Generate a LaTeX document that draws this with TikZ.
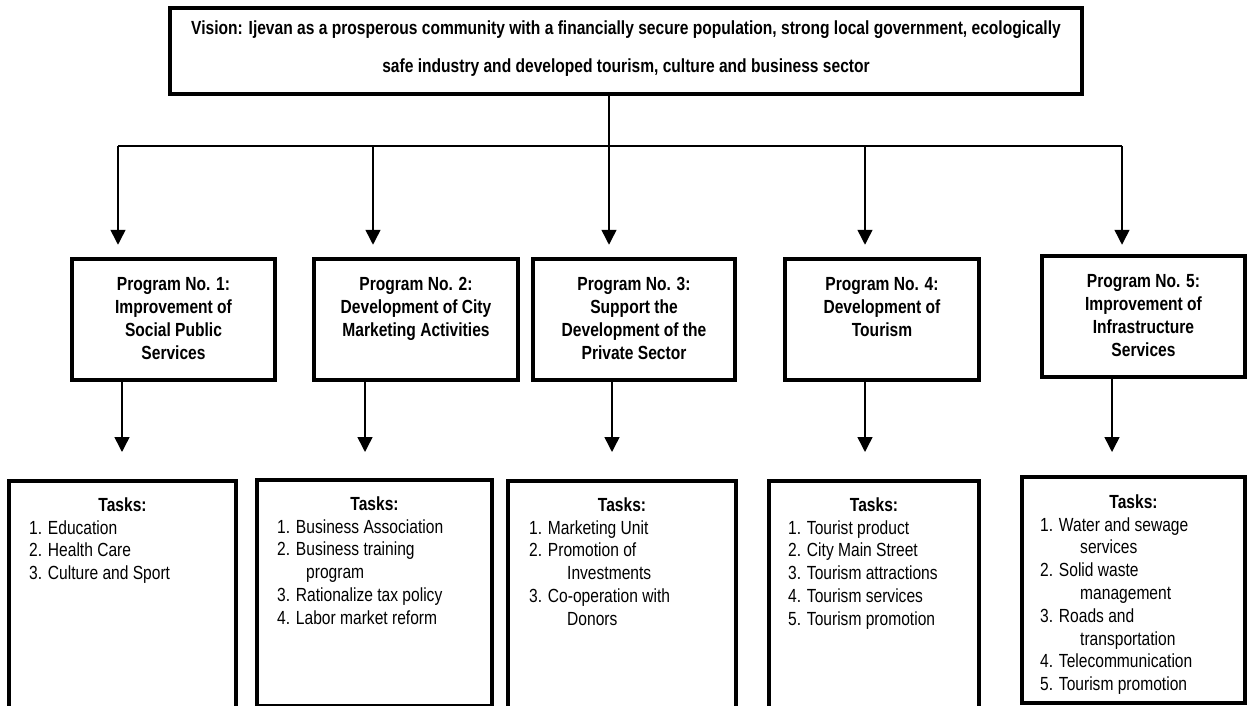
\documentclass[tikz,border=0pt]{standalone}
\usepackage{fontspec}
\setmainfont{Liberation Sans}[FakeStretch=0.82]
\usetikzlibrary{arrows.meta}

\begin{document}
\begin{tikzpicture}[x=1pt,y=-1pt,
  box/.style={draw, line width=4.5pt, inner sep=0pt},
  boxtext/.style={font=\fontsize{19}{23}\selectfont\bfseries, align=center, inner sep=0pt, anchor=north},
  tasktitle/.style={font=\fontsize{19}{23}\selectfont\bfseries, inner sep=0pt, anchor=base},
  tasklist/.style={font=\fontsize{19}{22.8}\selectfont, align=left, inner sep=0pt, anchor=north west},
  link/.style={line width=1.5pt},
  arrow/.style={link, -{Triangle[width=15pt,length=15pt]}},
]
\fill[white] (0,0) rectangle (1248,706);
\begin{scope}
\clip (0,0) rectangle (1248,706);

% vision
\node[box, minimum width=912pt, minimum height=86pt] (v) at (626,51) {};
\node[boxtext] (vt) at (626,18) {\strut Vision: Ijevan as a prosperous community with a financially secure population, strong local government, ecologically\\[15pt]
  safe industry and developed tourism, culture and business sector};

% programs
\node[box, minimum width=203pt, minimum height=121pt] (p1) at (173.5,319.5) {};
\node[box, minimum width=204pt, minimum height=121pt] (p2) at (416,319.5) {};
\node[box, minimum width=202pt, minimum height=121pt] (p3) at (634,319.5) {};
\node[box, minimum width=194pt, minimum height=121pt] (p4) at (882,319.5) {};
\node[box, minimum width=203pt, minimum height=121pt] (p5) at (1143.5,316.5) {};

\node[boxtext] (p1t) at (173.5,274) {\strut Program No. 1:\\Improvement of\\Social Public\\Services};
\node[boxtext] (p2t) at (416,274) {\strut Program No. 2:\\Development of City\\Marketing Activities};
\node[boxtext] (p3t) at (634,274) {\strut Program No. 3:\\Support the\\Development of the\\Private Sector};
\node[boxtext] (p4t) at (882,274) {\strut Program No. 4:\\Development of\\Tourism};
\node[boxtext] (p5t) at (1143.5,271) {\strut Program No. 5:\\Improvement of\\Infrastructure\\Services};

% task boxes
\node[box, minimum width=227pt, minimum height=279pt] (t1) at (122.5,620.5) {};
\node[box, minimum width=235pt, minimum height=226pt] (t2) at (374.5,593) {};
\node[box, minimum width=228pt, minimum height=279pt] (t3) at (622,620.5) {};
\node[box, minimum width=210pt, minimum height=279pt] (t4) at (874,620.5) {};
\node[box, minimum width=223pt, minimum height=226pt] (t5) at (1133.5,590) {};

\node[tasktitle] (t1h) at (122.5,511) {Tasks:};
\node[tasktitle] (t2h) at (374.5,510) {Tasks:};
\node[tasktitle] (t3h) at (622,511) {Tasks:};
\node[tasktitle] (t4h) at (874,511) {Tasks:};
\node[tasktitle] (t5h) at (1133.5,508) {Tasks:};

\node[tasklist] (t1l) at (29,518) {\strut 1. Education\\2. Health Care\\3. Culture and Sport};
\node[tasklist] (t2l) at (277,517) {\strut 1. Business Association\\2. Business training\\\hspace*{29pt}program\\3. Rationalize tax policy\\4. Labor market reform};
\node[tasklist] (t3l) at (529,518) {\strut 1. Marketing Unit\\2. Promotion of\\\hspace*{38pt}Investments\\3. Co-operation with\\\hspace*{38pt}Donors};
\node[tasklist] (t4l) at (788,518) {\strut 1. Tourist product\\2. City Main Street\\3. Tourism attractions\\4. Tourism services\\5. Tourism promotion};
\node[tasklist] (t5l) at (1040,515) {\strut 1. Water and sewage\\\hspace*{40pt}services\\2. Solid waste\\\hspace*{40pt}management\\3. Roads and\\\hspace*{40pt}transportation\\4. Telecommunication\\5. Tourism promotion};

% distribution line from the vision to the programs
\coordinate (j1) at (118,146);
\coordinate (j2) at (373,146);
\coordinate (j3) at (609,146);
\coordinate (j4) at (865,146);
\coordinate (j5) at (1122,146);
\draw[link] (j1) -- (j5);
\draw[arrow] (v.south -| j3) -- ([yshift=12pt]j3 |- p3.north);
\draw[arrow] (j1) -- ([yshift=12pt]j1 |- p1.north);
\draw[arrow] (j2) -- ([yshift=12pt]j2 |- p2.north);
\draw[arrow] (j4) -- ([yshift=12pt]j4 |- p4.north);
\draw[arrow] (j5) -- ([yshift=9pt]j5 |- p5.north);

% programs to tasks
\coordinate (d1) at (122,452);
\coordinate (d2) at (365,452);
\coordinate (d3) at (612,452);
\coordinate (d4) at (865,452);
\coordinate (d5) at (1112,452);
\draw[arrow] (d1 |- p1.south) -- (d1);
\draw[arrow] (d2 |- p2.south) -- (d2);
\draw[arrow] (d3 |- p3.south) -- (d3);
\draw[arrow] (d4 |- p4.south) -- (d4);
\draw[arrow] (d5 |- p5.south) -- (d5);
\end{scope}
\pgfresetboundingbox
\useasboundingbox (0,0) rectangle (1248,706);
\end{tikzpicture}
\end{document}
